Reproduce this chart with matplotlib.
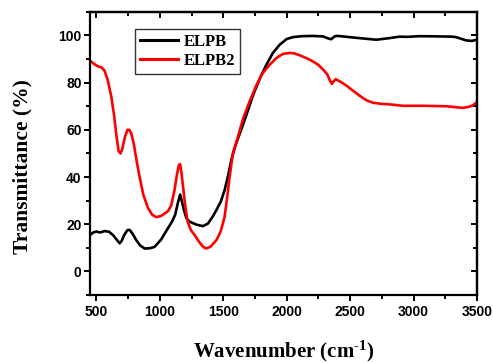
import matplotlib
matplotlib.use("Agg")
import matplotlib.pyplot as plt
from matplotlib.ticker import MultipleLocator

plt.rcParams["mathtext.fontset"] = "custom"
plt.rcParams["mathtext.rm"] = "Liberation Serif:bold"
plt.rcParams["mathtext.bf"] = "Liberation Serif:bold"
plt.rcParams["mathtext.it"] = "Liberation Serif:bold"

# ELPB (black)
elpb_x = [450, 475, 500, 530, 565, 600, 631, 660, 684, 700, 720, 745, 762, 785, 814, 845, 880,
          920, 959, 1010, 1064, 1095, 1121, 1140, 1160, 1175, 1190, 1210, 1234, 1290, 1340,
          1380, 1420, 1447, 1480, 1512, 1540, 1565, 1600, 1644, 1690, 1735, 1790, 1840,
          1890, 1945, 2000, 2050, 2120, 2207, 2286, 2330, 2351, 2380, 2404, 2548, 2706,
          2800, 2889, 2950, 3046, 3204, 3300, 3335, 3380, 3414, 3460, 3500]
elpb_y = [15.4, 16.5, 16.9, 16.5, 17.1, 16.8, 15.4, 13.5, 11.9, 13.0, 15.5, 17.5, 17.6, 16.0,
          13.3, 11.0, 9.7, 9.8, 10.4, 13.5, 18.3, 21.0, 24.0, 28.5, 32.6, 29.5, 26.0, 22.5,
          21.1, 19.8, 19.2, 20.3, 23.5, 26.1, 29.5, 34.7, 41.0, 47.6, 54.0, 60.4, 67.5, 74.7,
          82.0, 87.6, 92.5, 96.1, 98.5, 99.3, 99.7, 99.8, 99.6, 98.7, 98.4, 99.7, 99.8, 99.0,
          98.2, 98.8, 99.5, 99.4, 99.7, 99.6, 99.5, 99.3, 98.5, 97.9, 97.7, 98.2]

# ELPB2 (red)
elpb2_x = [450, 480, 513, 540, 565, 590, 618, 640, 657, 675, 691, 705, 725, 745, 760, 775, 795,
           820, 841, 870, 906, 940, 972, 1010, 1064, 1090, 1116, 1135, 1150, 1160, 1170, 1185,
           1200, 1220, 1245, 1280, 1310, 1340, 1365, 1400, 1447, 1480, 1510, 1530, 1550, 1577,
           1610, 1656, 1700, 1762, 1810, 1866, 1920, 1971, 2024, 2060, 2102, 2160, 2207, 2250,
           2286, 2320, 2340, 2355, 2370, 2385, 2420, 2470, 2520, 2574, 2630, 2679, 2750, 2810,
           2915, 3072, 3256, 3387, 3440, 3470, 3500]
elpb2_y = [89.3, 88.0, 86.9, 86.5, 85.0, 81.0, 74.0, 66.0, 58.0, 51.0, 50.0, 52.0, 57.0, 60.0,
           60.0, 58.5, 54.0, 46.0, 40.0, 32.5, 27.0, 24.0, 23.0, 23.5, 25.5, 28.0, 34.5, 41.0,
           45.0, 45.5, 42.0, 35.0, 28.0, 21.0, 17.5, 15.0, 12.5, 10.5, 9.7, 10.5, 13.3, 17.0,
           23.0, 31.0, 40.0, 50.4, 56.0, 64.7, 71.0, 79.0, 84.0, 87.6, 90.5, 92.2, 92.6, 92.4,
           91.6, 90.3, 89.0, 87.5, 85.6, 83.5, 81.0, 79.5, 80.5, 81.5, 80.5, 78.8, 76.7, 74.5,
           72.5, 71.5, 71.0, 70.8, 70.2, 70.2, 70.0, 69.3, 69.8, 70.5, 71.8]

x_ticks = [500, 1000, 1500, 2000, 2500, 3000, 3500]
y_ticks = [0, 20, 40, 60, 80, 100]

fig = plt.figure(figsize=(4.93, 3.63), dpi=100)
ax = fig.add_axes([0.1826, 0.1873, 0.785, 0.780])

ax.plot(elpb_x, elpb_y, color="black", lw=1.9, label="ELPB")
ax.plot(elpb2_x, elpb2_y, color="#ff0000", lw=1.9, label="ELPB2")

ax.set_xlim(450, 3500)
ax.set_ylim(-10, 110)
ax.set_xticks(x_ticks)
ax.set_yticks(y_ticks)
ax.xaxis.set_minor_locator(MultipleLocator(250))
ax.yaxis.set_minor_locator(MultipleLocator(10))

for s in ax.spines.values():
    s.set_linewidth(1.6)

ax.tick_params(which="both", direction="out", width=1.4, top=False, right=False)
ax.tick_params(which="major", length=4)
ax.tick_params(which="minor", length=3)
secx = ax.secondary_xaxis("top")
secx.set_xticks(x_ticks)
secx.xaxis.set_minor_locator(MultipleLocator(250))
secx.tick_params(which="both", direction="in", width=1.4, labeltop=False, length=4)
secx.tick_params(which="minor", length=3)
secx.spines["top"].set_linewidth(1.6)
secy = ax.secondary_yaxis("right")
secy.set_yticks(y_ticks)
secy.yaxis.set_minor_locator(MultipleLocator(10))
secy.tick_params(which="both", direction="in", width=1.4, labelright=False, length=4)
secy.tick_params(which="minor", length=3)
secy.spines["right"].set_linewidth(1.6)

for lab in ax.get_xticklabels() + ax.get_yticklabels():
    lab.set_fontfamily("Liberation Sans")
    lab.set_fontweight("bold")
    lab.set_fontsize(10)
ax.tick_params(axis="x", pad=3)
ax.tick_params(axis="y", pad=2)

ax.set_xlabel("Wavenumber (cm$^{\\text{-1}}$)", fontfamily="Liberation Serif",
              fontweight="bold", fontsize=15)
ax.xaxis.set_label_coords(0.5, -0.155)
ax.set_ylabel("Transmittance (%)", fontfamily="Liberation Serif",
              fontweight="bold", fontsize=15.5)
ax.yaxis.set_label_coords(-0.148, 0.455)

leg = ax.legend(loc="upper left", bbox_to_anchor=(0.115, 0.94), frameon=True, fancybox=False,
                prop={"family": "Liberation Serif", "weight": "bold", "size": 12},
                handlelength=2.3, borderpad=0.3, labelspacing=0.2, handletextpad=0.35,
                borderaxespad=0)
leg.get_frame().set_edgecolor("black")
leg.get_frame().set_linewidth(1.0)
for h in leg.get_lines():
    h.set_linewidth(2.2)

fig.savefig("out.png", dpi=100)
